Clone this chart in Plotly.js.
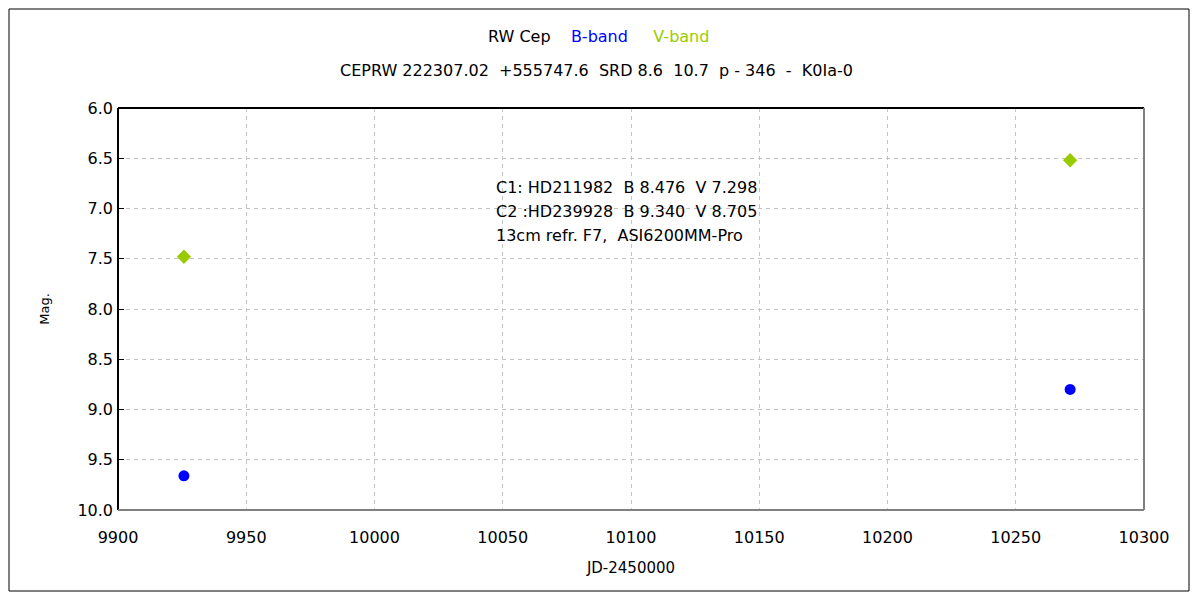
<!DOCTYPE html>
<html><head><meta charset="utf-8">
<script src="https://cdn.plot.ly/plotly-3.0.1.min.js"></script>
<style>body{margin:0;background:#fff}#c{width:1200px;height:600px}</style>
</head><body><div id="c"></div>
<script>
const jdB = [9925.7, 10271.2];
const magB = [9.66, 8.80];
const jdV = [9925.7, 10271.2];
const magV = [7.48, 6.52];
const yTicks = [6.0, 6.5, 7.0, 7.5, 8.0, 8.5, 9.0, 9.5, 10.0];
const xTicks = [9900, 9950, 10000, 10050, 10100, 10150, 10200, 10250, 10300];
const infoLines = ["C1: HD211982&nbsp;&nbsp;B 8.476&nbsp;&nbsp;V 7.298", "C2 :HD239928&nbsp;&nbsp;B 9.340&nbsp;&nbsp;V 8.705", "13cm refr. F7,&nbsp;&nbsp;ASI6200MM-Pro"];

const F = "DejaVu Sans, Liberation Sans, sans-serif";
const W = 1026, H = 402, L = 118, T = 108;
const px = v => (v - L) / W;
const py = v => (T + H - v) / H;

const traces = [
  {x: jdB, y: magB, mode: 'markers', type: 'scatter', name: 'B-band',
   marker: {symbol: 'circle', size: 11, color: '#0000ff'}},
  {x: jdV, y: magV, mode: 'markers', type: 'scatter', name: 'V-band',
   marker: {symbol: 'diamond', size: 11, color: '#99cc00'}}
];

const annotations = [
  {xref: 'paper', yref: 'paper', x: px(598), y: py(37), xanchor: 'center', yanchor: 'middle', showarrow: false,
   text: 'RW Cep&nbsp;&nbsp;&nbsp;&nbsp;<span style="color:#0000ff">B-band</span>&nbsp;&nbsp;&nbsp;&nbsp;&nbsp;<span style="color:#99cc00">V-band</span>',
   font: {family: F, size: 16, color: '#000'}},
  {xref: 'paper', yref: 'paper', x: px(596), y: py(71), xanchor: 'center', yanchor: 'middle', showarrow: false,
   text: 'CEPRW 222307.02&nbsp;&nbsp;+555747.6&nbsp;&nbsp;SRD 8.6&nbsp;&nbsp;10.7&nbsp;&nbsp;p - 346&nbsp;&nbsp;-&nbsp;&nbsp;K0Ia-0',
   font: {family: F, size: 16, color: '#000'}}
];
infoLines.forEach((t, i) => annotations.push({
  xref: 'paper', yref: 'paper', x: px(494), y: py(187 + 24 * i), xanchor: 'left', yanchor: 'middle',
  showarrow: false, text: t, font: {family: F, size: 16, color: '#000'}
}));

const shapes = [
  {type: 'rect', xref: 'paper', yref: 'paper', x0: px(9), x1: px(1189), y0: py(591), y1: py(9), line: {color: '#000', width: 1}},
  {type: 'line', xref: 'paper', yref: 'paper', x0: 0, x1: 1, y0: 1, y1: 1, line: {color: '#000', width: 2}},
  {type: 'line', xref: 'paper', yref: 'paper', x0: 0, x1: 0, y0: 0, y1: 1, line: {color: '#000', width: 2}},
  {type: 'line', xref: 'paper', yref: 'paper', x0: 1, x1: 1, y0: 0, y1: 1, line: {color: '#808080', width: 2}},
  {type: 'line', xref: 'paper', yref: 'paper', x0: 0, x1: 1, y0: 0, y1: 0, line: {color: '#808080', width: 2}}
];

const layout = {
  width: 1200, height: 600,
  margin: {l: L, r: 1200 - L - W, t: T, b: 600 - T - H, pad: 0},
  paper_bgcolor: '#fff', plot_bgcolor: '#fff',
  showlegend: false,
  font: {family: F, size: 15, color: '#000'},
  xaxis: {range: [9900, 10300], tickvals: xTicks, ticktext: xTicks.map(String),
    showgrid: true, gridcolor: '#c4c4c4', griddash: '4px,4px', gridwidth: 1,
    zeroline: false, showline: false, ticks: '', ticklabelstandoff: 16,
    tickfont: {family: F, size: 16},
    title: {text: 'JD-2450000', font: {family: F, size: 15}, standoff: 16}},
  yaxis: {range: [10, 6], tickvals: yTicks, ticktext: yTicks.map(v => v.toFixed(1)),
    showgrid: true, gridcolor: '#c4c4c4', griddash: '4px,4px', gridwidth: 1,
    zeroline: false, showline: false, ticks: 'inside', ticklen: 6, tickcolor: '#000', tickwidth: 1,
    ticklabelstandoff: 4,
    tickfont: {family: F, size: 16},
    title: {text: 'Mag.', font: {family: F, size: 13}, standoff: 24}},
  annotations: annotations,
  shapes: shapes
};

Plotly.newPlot('c', traces, layout, {displayModeBar: false, staticPlot: true});
</script></body></html>
